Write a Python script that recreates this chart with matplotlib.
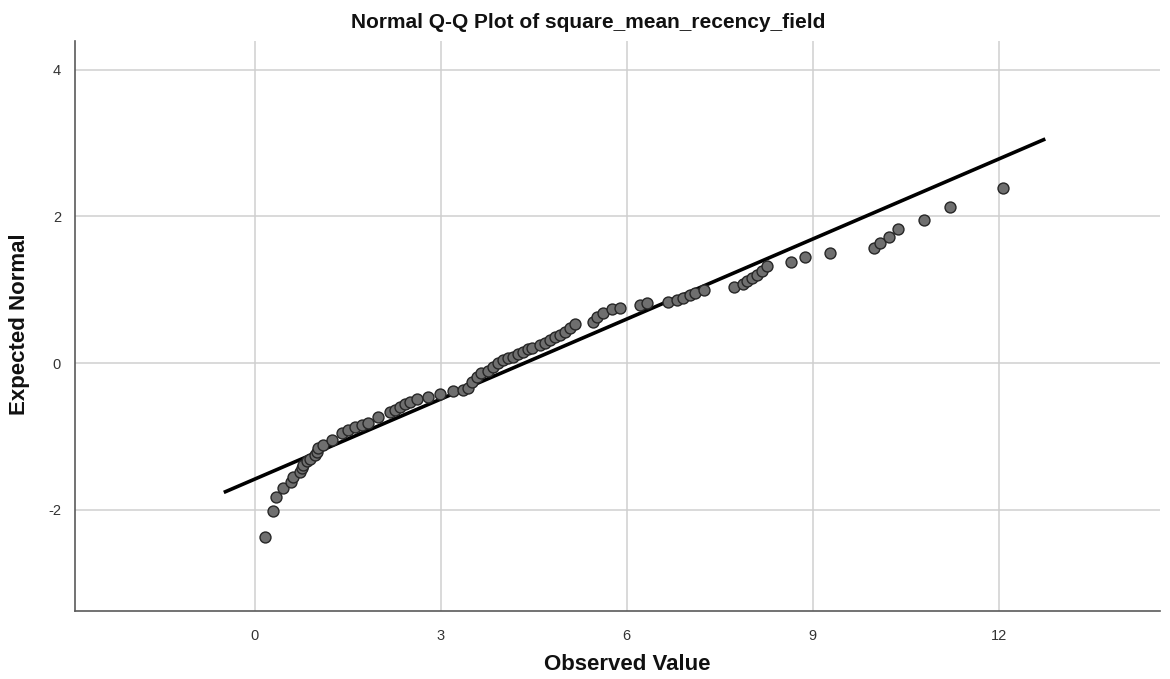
import matplotlib
matplotlib.use("Agg")
import matplotlib.pyplot as plt
import numpy as np

plt.rcParams['font.family'] = ['Liberation Sans', 'DejaVu Sans']
plt.rcParams['axes.unicode_minus'] = False

observed = [0.16, 0.29, 0.34, 0.45, 0.58, 0.61, 0.73, 0.76, 0.77, 0.84,
            0.89, 0.97, 1.00, 1.02, 1.10, 1.24, 1.40, 1.50, 1.61, 1.73,
            1.82, 1.98, 2.18, 2.26, 2.34, 2.42, 2.50, 2.61, 2.79, 2.98,
            3.19, 3.35, 3.44, 3.50, 3.58, 3.65, 3.76, 3.84, 3.92, 4.00,
            4.08, 4.16, 4.24, 4.32, 4.40, 4.47, 4.60, 4.68, 4.76, 4.84,
            4.92, 5.00, 5.08, 5.16, 5.45, 5.52, 5.61, 5.76, 5.89, 6.21,
            6.32, 6.66, 6.81, 6.90, 7.02, 7.10, 7.24, 7.73, 7.87, 7.94,
            8.02, 8.10, 8.18, 8.26, 8.65, 8.87, 9.27, 9.98, 10.08, 10.23,
            10.37, 10.79, 11.21, 12.06]
expected = [-2.37, -2.02, -1.83, -1.71, -1.62, -1.56, -1.49, -1.43, -1.39, -1.34,
            -1.31, -1.26, -1.21, -1.16, -1.12, -1.05, -0.95, -0.91, -0.87, -0.85,
            -0.82, -0.74, -0.67, -0.64, -0.60, -0.56, -0.53, -0.49, -0.46, -0.42,
            -0.38, -0.37, -0.34, -0.26, -0.19, -0.14, -0.11, -0.05, 0.00, 0.04,
            0.07, 0.08, 0.12, 0.15, 0.19, 0.20, 0.25, 0.27, 0.31, 0.35,
            0.38, 0.42, 0.48, 0.53, 0.56, 0.63, 0.68, 0.74, 0.75, 0.79,
            0.82, 0.83, 0.86, 0.89, 0.93, 0.95, 1.00, 1.04, 1.08, 1.12,
            1.16, 1.20, 1.26, 1.32, 1.38, 1.45, 1.50, 1.57, 1.64, 1.72,
            1.83, 1.95, 2.13, 2.39]

# Reference line: expected = (x - mean) / sd
line_x = [-0.5, 12.75]
line_mean = 4.35
line_sd = 2.75

x_ticks = [0, 3, 6, 9, 12]
y_ticks = [-2, 0, 2, 4]

title = "Normal Q-Q Plot of square_mean_recency_field"
xlabel = "Observed Value"
ylabel = "Expected Normal"

fig = plt.figure(figsize=(11.7, 6.79), dpi=100)
ax = fig.add_axes([75/1170, 1 - 611/679, (1160 - 75)/1170, (611 - 41)/679])

ax.set_xlim(-2.90, 14.6)
ax.set_ylim(-3.38, 4.39)
ax.set_xticks(x_ticks)
ax.set_yticks(y_ticks)
ax.grid(True, color='#cfcfcf', linewidth=1.1, zorder=0)
ax.set_axisbelow(True)

lx = np.array(line_x)
ly = (lx - line_mean) / line_sd
ax.plot(lx, ly, color='black', linewidth=2.6, solid_capstyle='butt', zorder=2)

ax.scatter(observed, expected, s=62, facecolor='#6f6f6f', edgecolor='#262626',
           linewidth=1.0, zorder=3)

for side in ['top', 'right']:
    ax.spines[side].set_visible(False)
for side in ['left', 'bottom']:
    ax.spines[side].set_color('#5a5a5a')
    ax.spines[side].set_linewidth(1.2)

ax.tick_params(axis='both', length=0, labelsize=10.5, colors='#333333')
ax.tick_params(axis='x', pad=13)
ax.tick_params(axis='y', pad=10)

fig.text(0.503, 1 - 22/679, title, ha='center', va='center', fontsize=15,
         fontweight='bold', color='#111111')
fig.text(627/1170, 1 - 665/679, xlabel, ha='center', va='center', fontsize=16,
         fontweight='bold', color='#111111')
fig.text(20/1170, 1 - 324/679, ylabel, ha='center', va='center', fontsize=16,
         fontweight='bold', rotation=90, color='#111111')

fig.savefig('out.png', dpi=100)
